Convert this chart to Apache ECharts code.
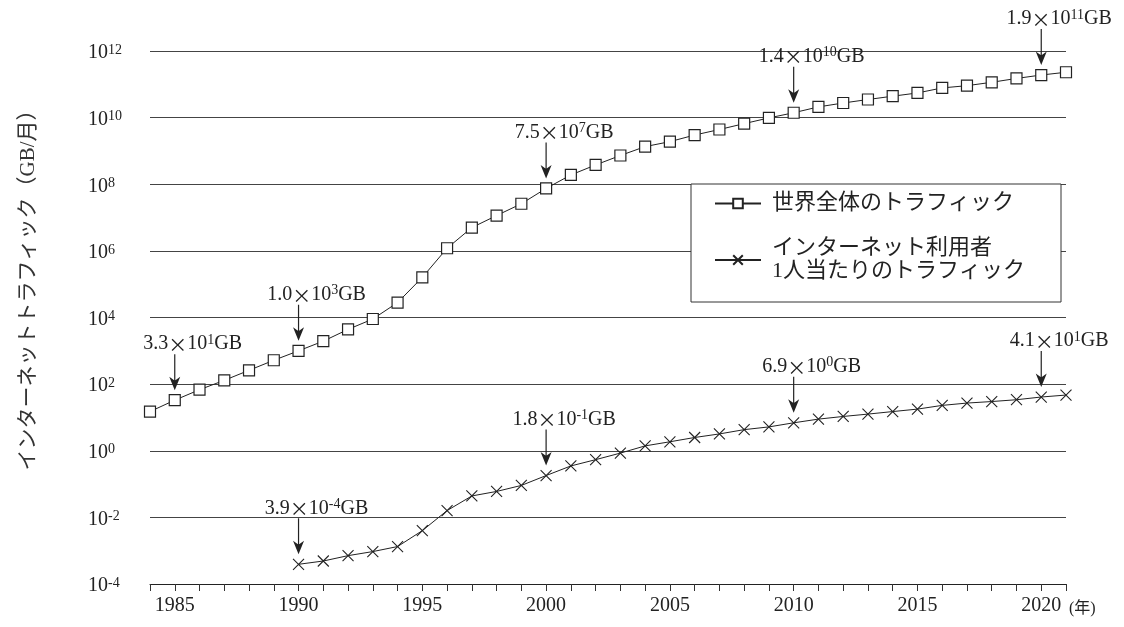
<!DOCTYPE html>
<html lang="ja">
<head>
<meta charset="UTF-8">
<title>インターネットトラフィック</title>
<script src="https://cdn.jsdelivr.net/npm/echarts@6/dist/echarts.min.js"></script>
<style>
  html, body { margin: 0; padding: 0; background: #fff; }
  #chart { width: 1124px; height: 627px; }
</style>
</head>
<body>
<div id="chart"></div>
<script>
// 年（横軸）
var years = [1984, 1985, 1986, 1987, 1988, 1989, 1990, 1991, 1992, 1993,
  1994, 1995, 1996, 1997, 1998, 1999, 2000, 2001, 2002, 2003,
  2004, 2005, 2006, 2007, 2008, 2009, 2010, 2011, 2012, 2013,
  2014, 2015, 2016, 2017, 2018, 2019, 2020, 2021];

// 世界全体のトラフィック (GB/月)
var worldTraffic = [15, 33, 68, 130, 260, 520, 1000, 1950, 4400, 9000,
  2.8e4, 1.6e5, 1.2e6, 5e6, 1.15e7, 2.6e7, 7.5e7, 1.9e8, 3.8e8, 7.3e8,
  1.35e9, 1.9e9, 3e9, 4.4e9, 6.6e9, 9.8e9, 1.4e10, 2.1e10, 2.75e10, 3.5e10,
  4.4e10, 5.5e10, 7.8e10, 9.1e10, 1.15e11, 1.5e11, 1.9e11, 2.3e11];

// インターネット利用者1人当たりのトラフィック (GB/月), 1990年から
var perUserTraffic = [null, null, null, null, null, null, 3.9e-4, 4.9e-4, 7.1e-4, 9.4e-4,
  1.33e-3, 4e-3, 1.6e-2, 4.4e-2, 6e-2, 9.1e-2, 0.18, 0.35, 0.54, 0.85,
  1.4, 1.86, 2.5, 3.2, 4.3, 5.2, 6.9, 8.9, 10.7, 12.6,
  15, 17.8, 23, 27, 30, 34, 41, 47];

// 注記（矢印）
var worldNoteYears = [1985, 1990, 2000, 2010, 2020];
var worldNoteMantissa = ['3.3', '1.0', '7.5', '1.4', '1.9'];
var worldNoteExp = ['1', '3', '7', '10', '11'];

var userNoteYears = [1990, 2000, 2010, 2020];
var userNoteMantissa = ['3.9', '1.8', '6.9', '4.1'];
var userNoteExp = ['-4', '-1', '0', '1'];

var seriesNames = ['世界全体のトラフィック', 'インターネット利用者\n1人当たりのトラフィック'];

var serif = "'Liberation Serif', 'Noto Sans CJK JP', serif";
var ink = '#222';

var arrowPath = 'path://M4.9,0 L6.1,0 L6.1,26 L11,22.5 L5.5,36 L0,22.5 L4.9,26 Z';
var crossPath = 'path://M0,0 L10,10 M10,0 L0,10';

var richNote = {
    n: { fontFamily: serif, fontSize: 20, color: ink, verticalAlign: 'bottom', lineHeight: 26 },
    x: { fontFamily: "'Noto Sans CJK JP'", fontSize: 19, color: ink, verticalAlign: 'bottom', lineHeight: 26 },
    s: { fontFamily: serif, fontSize: 14, color: ink, verticalAlign: 'top', padding: [5, 0, 0, 0] }
};

function toPairs(vals) {
    return years.map(function (y, i) { return [y, vals[i]]; });
}

function notes(noteYears, mant, exp, vals) {
    return noteYears.map(function (y, i) {
        var v = vals[years.indexOf(y)];
        return {
            coord: [y, v],
            label: {
                formatter: '{n|' + mant[i] + '}{x|×}{n|10}{s|' + exp[i] + '}{n|GB}'
            }
        };
    });
}

function markPointOf(data) {
    return {
        symbol: arrowPath,
        symbolSize: [11, 36],
        symbolOffset: [0, -28],
        itemStyle: { color: ink },
        label: {
            show: true,
            position: 'top',
            distance: 0,
            offset: [18, 0],
            rich: richNote
        },
        data: data
    };
}

var myChart = echarts.init(document.getElementById('chart'));
var option = {
    animation: false,
    backgroundColor: '#fff',
    grid: { left: 150, right: 58, top: 51, bottom: 43 },
    legend: {
        orient: 'vertical',
        left: 691,
        top: 184,
        padding: [8, 36, 19, 23],
        itemWidth: 46,
        itemHeight: 12,
        itemGap: 22,
        backgroundColor: '#fff',
        borderColor: '#333',
        borderWidth: 1,
        borderRadius: 0,
        textStyle: {
            fontFamily: serif, fontSize: 22, lineHeight: 23, color: ink,
            padding: [0, 0, 0, 6]
        },
        data: seriesNames
    },
    graphic: [{
        type: 'text',
        x: 28,
        y: 285,
        rotation: Math.PI / 2,
        style: {
            text: 'インターネットトラフィック（GB/月）',
            font: "21px 'Liberation Serif', 'Noto Sans CJK JP'",
            fill: '#333',
            align: 'center',
            verticalAlign: 'middle'
        }
    }],
    xAxis: {
        type: 'value',
        min: 1984,
        max: 2021,
        interval: 1,
        name: '(年)',
        nameLocation: 'end',
        nameGap: 3,
        nameTextStyle: {
            fontFamily: serif, fontSize: 16, color: ink,
            verticalAlign: 'top', padding: [17, 0, 0, 0]
        },
        axisLine: { lineStyle: { color: '#222', width: 1 } },
        axisTick: { show: true, length: 7, lineStyle: { color: '#333' } },
        splitLine: { show: false },
        axisLabel: {
            margin: 12,
            fontFamily: serif, fontSize: 20, color: ink,
            formatter: function (v) { return v % 5 === 0 ? String(v) : ''; }
        }
    },
    yAxis: {
        type: 'log',
        logBase: 10,
        min: 1e-4,
        max: 1e12,
        interval: 2,
        splitNumber: 8,
        axisLine: { show: false },
        axisTick: { show: false },
        splitLine: { show: true, lineStyle: { color: '#444', width: 1 } },
        axisLabel: {
            align: 'left',
            margin: 62,
            formatter: function (v) {
                var e = Math.round(Math.log10(v));
                return '{b|10}{s|' + e + '}';
            },
            rich: {
                b: { fontFamily: serif, fontSize: 20, color: ink, verticalAlign: 'bottom', lineHeight: 24 },
                s: { fontFamily: serif, fontSize: 14, color: ink, verticalAlign: 'top', padding: [4, 0, 0, 0] }
            }
        }
    },
    series: [{
        name: seriesNames[0],
        type: 'line',
        data: toPairs(worldTraffic),
        symbol: 'rect',
        symbolSize: 11,
        showAllSymbol: true,
        lineStyle: { color: ink, width: 1 },
        itemStyle: { color: '#fff', borderColor: ink, borderWidth: 1.2 },
        markPoint: markPointOf(notes(worldNoteYears, worldNoteMantissa, worldNoteExp, worldTraffic)),
        z: 3
    }, {
        name: seriesNames[1],
        type: 'line',
        data: toPairs(perUserTraffic),
        symbol: crossPath,
        symbolSize: 11,
        showAllSymbol: true,
        connectNulls: false,
        lineStyle: { color: ink, width: 1 },
        itemStyle: { color: 'none', borderColor: ink, borderWidth: 1.1 },
        markPoint: markPointOf(notes(userNoteYears, userNoteMantissa, userNoteExp, perUserTraffic)),
        z: 3
    }]
};
myChart.setOption(option);
</script>
</body>
</html>
